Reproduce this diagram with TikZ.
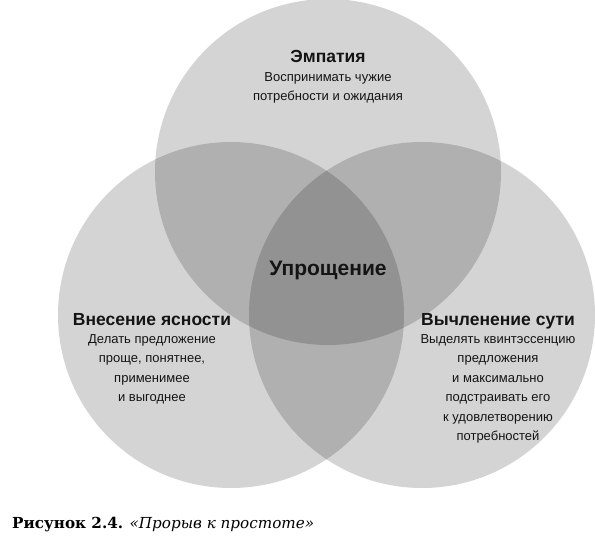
\documentclass[tikz,border=0pt]{standalone}
\usepackage{fontspec}
\setmainfont{DejaVu Serif}
\newfontfamily\vennsans{Liberation Sans}
\usetikzlibrary{positioning}
\usepackage{tkz-euclide}
\definecolor{VennClr}{rgb}{0,0,0}
\definecolor{TextClr}{rgb}{0.08,0.08,0.08}

\tikzset{
  venn/.style={fill=VennClr,fill opacity=0.17},
  vtitle/.style={font=\vennsans\bfseries\fontsize{17.5}{20}\selectfont,text=TextClr,inner sep=0pt,anchor=base},
  vbody/.style={font=\vennsans\fontsize{13}{19.5}\selectfont,text=TextClr,align=center,inner sep=0pt,anchor=north},
}

\begin{document}
\begin{tikzpicture}[x=1pt,y=-1pt]
\useasboundingbox (0,0) rectangle (595,543);

\tkzDefPoints{328/172/E,231/315/V,422/315/S}

% circles
\fill[venn] (E) circle (173);
\fill[venn] (V) circle (173);
\fill[venn] (S) circle (173);

% top
\node[vtitle] (empathy) at (328,63) {Эмпатия};
\node[vbody] (empathytxt) at (328,72) {Воспринимать чужие\\потребности и ожидания};

% centre
\node[vtitle,font=\vennsans\bfseries\fontsize{21}{24}\selectfont] (simple) at (328,275) {Упрощение};

% left
\node[vtitle] (clarity) at (152,325) {Внесение ясности};
\node[vbody] (claritytxt) at (152,334) {Делать предложение\\проще, понятнее,\\применимее\\и выгоднее};

% right
\node[vtitle] (essence) at (498,325) {Вычленение сути};
\node[vbody] (essencetxt) at (498,334) {Выделять квинтэссенцию\\предложения\\и максимально\\подстраивать его\\к удовлетворению\\потребностей};

% caption
\node[anchor=base west,inner sep=0pt,font=\fontsize{15.2}{18}\selectfont] (caption) at (12,528)
  {\textbf{Рисунок 2.4.} \textit{«Прорыв к простоте»}};

\end{tikzpicture}
\end{document}
